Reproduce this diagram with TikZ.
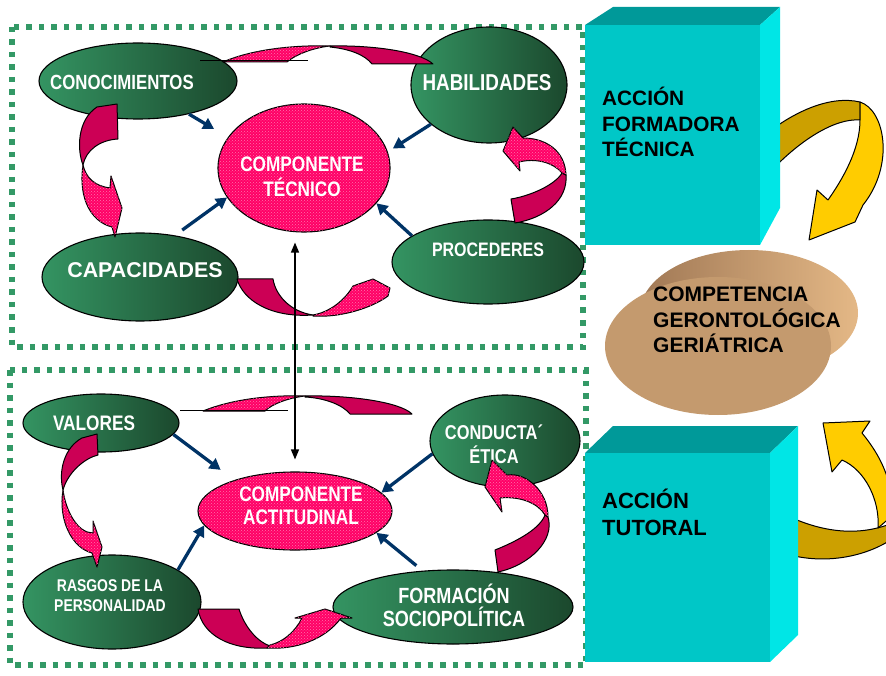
\documentclass[tikz,border=0pt]{standalone}
\usepackage{fontspec}
\setmainfont{Liberation Sans}
\newfontfamily\narrowfont[FakeStretch=0.82]{Liberation Sans}
\usepackage{tikz}
\usetikzlibrary{shapes, positioning, arrows.meta, patterns}

\definecolor{dotgreen}{RGB}{51,153,102}
\definecolor{ballLight}{RGB}{52,148,98}
\definecolor{ballDark}{RGB}{27,72,45}
\definecolor{rosa}{RGB}{255,0,102}
\definecolor{rosaDark}{RGB}{204,0,85}
\definecolor{navyblue}{RGB}{0,51,102}
\definecolor{cubeFront}{RGB}{0,199,199}
\definecolor{cubeTop}{RGB}{0,153,153}
\definecolor{cubeSide}{RGB}{0,230,230}
\definecolor{goldDark}{RGB}{204,160,0}
\definecolor{goldLight}{RGB}{255,204,0}
\definecolor{tanDark}{RGB}{160,120,85}
\definecolor{tanLight}{RGB}{228,184,134}
\definecolor{tanFront}{RGB}{196,154,110}

\begin{document}
\begin{tikzpicture}[x=1pt, y=-1pt,
    dotbox/.style={draw=dotgreen, line width=5.5pt, dash pattern=on 5.5pt off 7pt},
    gball/.style={ellipse, draw=black, line width=1.1pt, inner sep=0pt, left color=ballLight, right color=ballDark},
    pball/.style={ellipse, draw=black, line width=1.1pt, inner sep=0pt, fill=rosa, postaction={pattern=crosshatch dots, pattern color=rosa!55!white}},
    wtxt/.style={text=white, inner sep=0pt, align=center, font=\narrowfont\bfseries\fontsize{21}{24}\selectfont},
    btxt/.style={text=black, inner sep=0pt, align=left, font=\bfseries\fontsize{21}{26}\selectfont},
    ribA/.style={fill=rosaDark, draw=black, line width=1pt, line join=round},
    ribB/.style={fill=rosa, draw=black, line width=1pt, line join=round, postaction={pattern=crosshatch dots, pattern color=rosa!55!white}},
    goldA/.style={fill=goldDark, draw=black, line width=1pt, line join=round},
    goldB/.style={fill=goldLight, draw=black, line width=1pt, line join=round},
    barrow/.style={navyblue, line width=3.3pt, -{Triangle[length=11pt, width=12pt]}},
    darrow/.style={black, line width=1.3pt, {Triangle[length=10pt, width=8pt]}-{Triangle[length=10pt, width=8pt]}}]

    \useasboundingbox (0,0) rectangle (886,676);

    % dotted frames
    \draw[dotbox] (12,27) rectangle (583,347);
    \draw[dotbox] (10,370) rectangle (586,665);

    % yellow arrows (behind the cubes)
    \draw[goldA] (770,131) .. controls (795,112) and (830,95) .. (860,102) -- (860,120) .. controls (835,118) and (800,140) .. (770,172) -- cycle;
    \draw[goldB] (860,102) .. controls (885,110) and (895,165) .. (863,205) -- (855,222) -- (809,240) -- (817,190) -- (828,200) .. controls (842,180) and (860,150) .. (860,120) -- cycle;
    \draw[goldA] (790,517) .. controls (830,535) and (865,535) .. (895,522) -- (895,537) .. controls (870,555) and (830,565) .. (790,555) -- cycle;
    \draw[goldB] (862,433) .. controls (880,455) and (893,480) .. (893,515) -- (878,528) .. controls (880,500) and (865,470) .. (842,460) -- (832,472) -- (823,423) -- (870,421) -- cycle;

    % cubes
    \fill[cubeTop] (585,25) -- (613,7) -- (780,7) -- (760,25) -- cycle;
    \fill[cubeSide] (760,25) -- (780,7) -- (780,208) -- (760,245) -- cycle;
    \node[fill=cubeFront, minimum width=175pt, minimum height=220pt, inner sep=0pt, anchor=north west] (cubeT) at (585,25) {};
    \node[btxt, font=\bfseries\fontsize{20.8}{25.6}\selectfont, anchor=west] (cubeT-t) at (602,122) {ACCIÓN\\FORMADORA\\TÉCNICA};

    \fill[cubeTop] (585,453) -- (613,426) -- (798,426) -- (770,453) -- cycle;
    \fill[cubeSide] (770,453) -- (798,426) -- (798,635) -- (770,662) -- cycle;
    \node[fill=cubeFront, minimum width=185pt, minimum height=209pt, inner sep=0pt, anchor=north west] (cubeB) at (585,453) {};
    \node[btxt, font=\bfseries\fontsize{22}{27}\selectfont, anchor=west] (cubeB-t) at (602,512) {ACCIÓN\\TUTORAL};

    % competencia
    \node[ellipse, minimum width=218pt, minimum height=126pt, left color=tanDark, right color=tanLight] (compB) at (749,313) {};
    \node[ellipse, minimum width=226pt, minimum height=138pt, fill=tanFront] (comp) at (718,346) {};
    \node[btxt, font=\bfseries\fontsize{21}{25.5}\selectfont, anchor=west] (comp-t) at (653,320) {COMPETENCIA\\GERONTOLÓGICA\\GERIÁTRICA};

    % componente tecnico
    \node[gball, minimum width=198pt, minimum height=76pt] (conoc) at (138,81) {};
    \node[gball, minimum width=156pt, minimum height=116pt] (habil) at (489,85) {};
    \node[gball, minimum width=196pt, minimum height=88pt] (capac) at (140,277) {};
    \node[gball, minimum width=192pt, minimum height=84pt] (proced) at (488,262) {};
    \node[pball, minimum width=172pt, minimum height=128pt] (tecnico) at (304,168) {};

    \node[wtxt, font=\narrowfont\bfseries\fontsize{20.5}{24}\selectfont] (conoc-t) at (122,82) {CONOCIMIENTOS};
    \node[wtxt, font=\narrowfont\bfseries\fontsize{23}{24}\selectfont] (habil-t) at (487,83) {HABILIDADES};
    \node[wtxt, font=\bfseries\fontsize{21.4}{24}\selectfont] (capac-t) at (145,270) {CAPACIDADES};
    \node[wtxt, font=\narrowfont\bfseries\fontsize{19.5}{24}\selectfont] (proced-t) at (488,250) {PROCEDERES};
    \node[wtxt, font=\narrowfont\bfseries\fontsize{21}{25}\selectfont] (tecnico-t) at (302,177) {COMPONENTE\\TÉCNICO};

    % componente actitudinal
    \node[gball, minimum width=156pt, minimum height=58pt] (valores) at (101,423) {};
    \node[gball, minimum width=178pt, minimum height=94pt] (rasgos) at (112,602) {};
    \node[pball, minimum width=194pt, minimum height=78pt] (actitud) at (295,511) {};
    \node[gball, minimum width=150pt, minimum height=92pt] (conducta) at (505,441) {};
    \node[gball, minimum width=240pt, minimum height=74pt] (formacion) at (453,607) {};

    \node[wtxt] (valores-t) at (94,423) {VALORES};
    \node[wtxt, font=\narrowfont\bfseries\fontsize{17}{20}\selectfont] (rasgos-t) at (110,596) {RASGOS DE LA\\PERSONALIDAD};
    \node[wtxt, font=\narrowfont\bfseries\fontsize{21}{23}\selectfont] (actitud-t) at (301,506) {COMPONENTE\\ACTITUDINAL};
    \node[wtxt, font=\narrowfont\bfseries\fontsize{20}{24}\selectfont] (conducta-t) at (494,444) {CONDUCTA´\\ÉTICA};
    \node[wtxt, font=\narrowfont\bfseries\fontsize{22}{23}\selectfont] (formacion-t) at (454,605) {FORMACIÓN\\SOCIOPOLÍTICA};

    % ribbon arrows, upper frame
    \draw[ribA] (97,107) -- (117,104) -- (118,139) .. controls (100,140) and (86,150) .. (83,165) .. controls (77,150) and (77,120) .. (97,107) -- cycle;
    \draw[ribB] (83,165) .. controls (78,200) and (92,222) .. (112,227) -- (115,237) -- (122,208) -- (111,176) -- (110,188) .. controls (95,186) and (86,178) .. (83,165) -- cycle;

    \draw[ribA] (511,199) .. controls (530,196) and (555,185) .. (562,173) -- (566,175) .. controls (568,200) and (545,218) .. (515,223) -- cycle;
    \draw[ribB] (566,175) .. controls (565,150) and (545,138) .. (523,138) -- (513,127) -- (503,151) -- (520,171) -- (519,162) .. controls (535,158) and (553,162) .. (562,173) -- cycle;

    \draw[ribA] (237,279) -- (273,279) .. controls (276,297) and (292,312) .. (313,315) .. controls (270,318) and (243,300) .. (237,279) -- cycle;
    \draw[ribB] (313,316) .. controls (340,318) and (372,308) .. (388,296) -- (390,288) -- (373,279) -- (353,286) .. controls (345,300) and (330,312) .. (313,315) -- cycle;

    \draw[ribB] (223,62) .. controls (255,48) and (300,45) .. (330,46) .. controls (312,48) and (295,55) .. (287,62) -- cycle;
    \draw[ribA] (330,46) .. controls (375,45) and (420,52) .. (433,64) -- (372,64) .. controls (365,55) and (350,49) .. (330,47) -- cycle;
    \draw[line width=1pt] (200,61) -- (308,61);

    % ribbon arrows, lower frame
    \draw[ribB] (203,411) .. controls (235,398) and (275,395) .. (305,396) .. controls (288,398) and (272,404) .. (265,411) -- cycle;
    \draw[ribA] (305,396) .. controls (350,395) and (400,402) .. (412,414) -- (350,414) .. controls (343,405) and (325,398) .. (305,397) -- cycle;
    \draw[line width=1pt] (180,410) -- (288,410);

    \draw[ribA] (82,438) -- (97,434) -- (98,455) .. controls (85,458) and (68,472) .. (63,490) .. controls (58,470) and (65,447) .. (82,438) -- cycle;
    \draw[ribB] (63,490) .. controls (58,520) and (72,548) .. (92,553) -- (97,567) -- (102,547) -- (93,521) -- (93,533) .. controls (78,533) and (66,512) .. (63,490) -- cycle;

    \draw[ribA] (495,550) .. controls (520,540) and (540,528) .. (545,515) -- (548,517) .. controls (555,540) and (530,565) .. (498,572) -- cycle;
    \draw[ribB] (548,517) .. controls (548,490) and (525,472) .. (507,475) -- (492,460) -- (485,487) -- (502,512) -- (500,498) .. controls (520,496) and (538,503) .. (545,515) -- cycle;

    \draw[ribA] (198,609) -- (239,609) .. controls (245,628) and (258,642) .. (270,646) -- (267,648) .. controls (230,650) and (202,635) .. (198,609) -- cycle;
    \draw[ribB] (267,648) .. controls (295,650) and (325,640) .. (341,618) -- (352,618) -- (325,609) -- (295,618) -- (302,618) .. controls (295,632) and (283,642) .. (270,645) -- cycle;

    % arrows into the components
    \draw[barrow, shorten >=16pt] (conoc.-33) -- (tecnico.158);
    \draw[barrow, shorten <=9pt] (capac.50) -- (tecnico.201);
    \draw[barrow, shorten >=6pt] (habil.214) -- (tecnico.11);
    \draw[barrow] (proced.161) -- (tecnico.-26);

    \draw[barrow, shorten >=17pt] (valores.-9) -- (actitud.153);
    \draw[barrow] (rasgos.26) -- (actitud.189);
    \draw[barrow] (conducta.190) -- (actitud.12);
    \draw[barrow, shorten <=8pt] (formacion.130) -- (actitud.-15);

    \draw[darrow, shorten <=10pt, shorten >=12pt] (tecnico.south -| actitud.north) -- (actitud.north);
\end{tikzpicture}
\end{document}
